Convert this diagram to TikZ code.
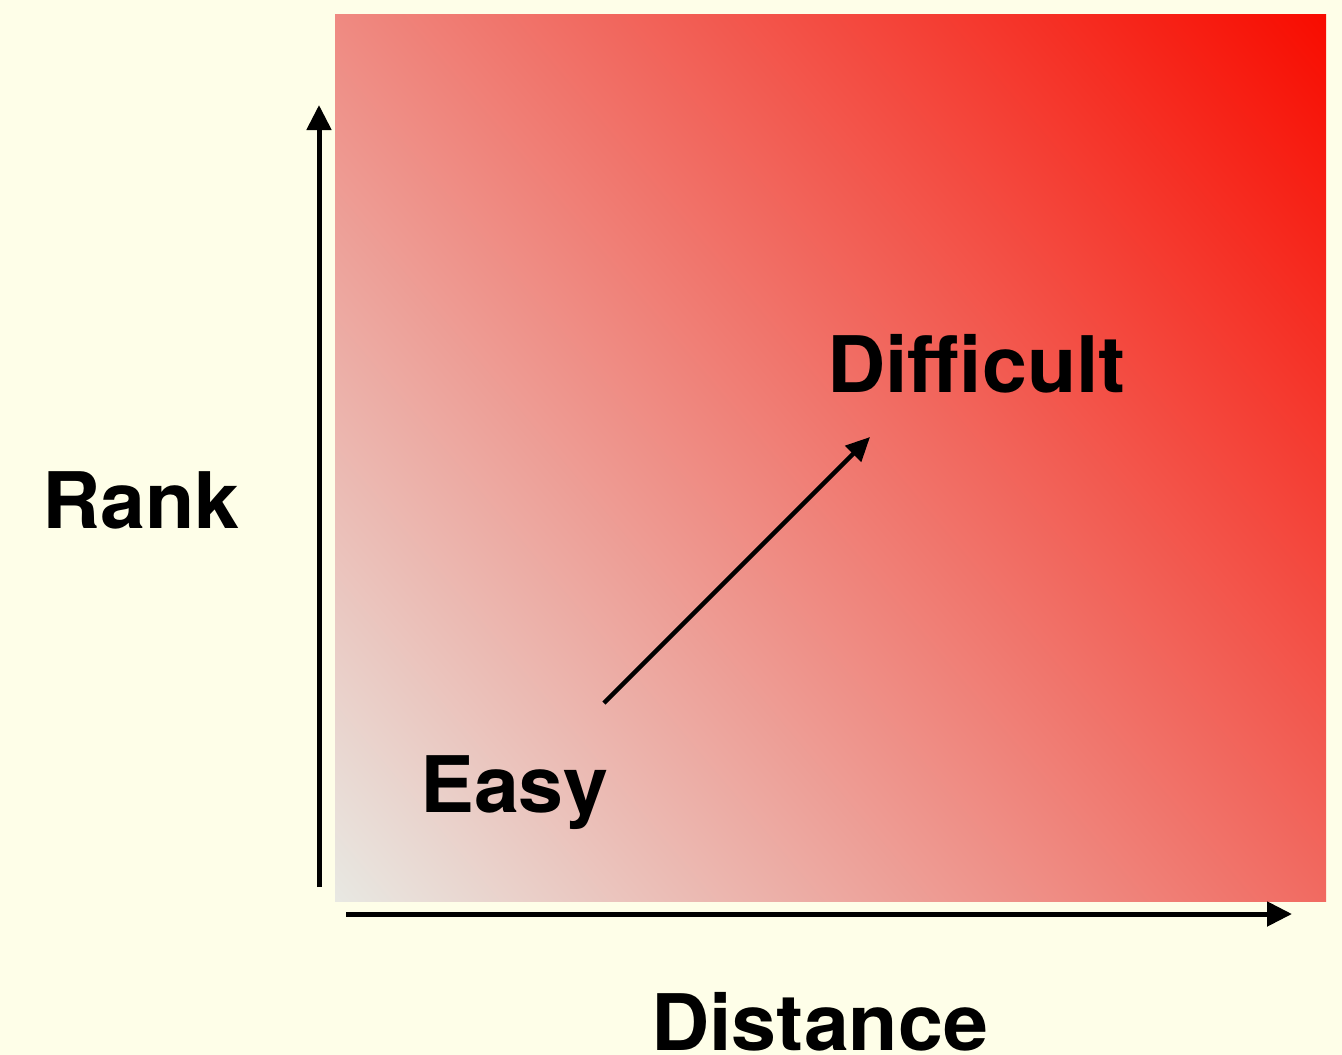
\documentclass[tikz,border=0pt]{standalone}
\usepackage{fontspec}
\setmainfont{TeX Gyre Heros}[FakeStretch=1.035]
\usetikzlibrary{arrows.meta}
\definecolor{bgcream}{HTML}{FEFEE8}
\definecolor{cgray}{HTML}{E8E8E2}
\definecolor{cred}{HTML}{F80C00}
\pgfdeclarehorizontalshading{diagshade}{100bp}{color(0bp)=(cgray); color(14.8bp)=(cgray); color(85.2bp)=(cred); color(100bp)=(cred)}
\tikzset{
  lbl/.style={font=\fontsize{78}{80}\selectfont\bfseries, inner sep=0pt, anchor=base west, text=black},
  axisarrow/.style={line width=5pt, -{Triangle[length=25pt,width=24pt]}},
  diagarrow/.style={line width=4.5pt, -{Triangle[length=24pt,width=22pt]}}
}
\begin{document}
\begin{tikzpicture}[x=1pt,y=-1pt]
\fill[bgcream] (0,0) rectangle (1342,1055);
\useasboundingbox (0,0) rectangle (1342,1055);
\shade[shading=diagshade, shading angle=40] (335,14) rectangle (1326,901);
\node[lbl] (rank) at (42,528) {Rank};
\node[lbl] (easy) at (420,812) {Easy};
\node[lbl] (difficult) at (827,392) {Difficult};
\node[lbl] (distance) at (651,1050) {Distance};
\coordinate (vstart) at (319,887);
\coordinate (vend) at (319,105);
\coordinate (hstart) at (346,914);
\coordinate (hend) at (1292,914);
\coordinate (dstart) at (604,703);
\coordinate (dend) at (870,437);
\draw[axisarrow] (vstart) -- (vend);
\draw[axisarrow] (hstart) -- (hend);
\draw[diagarrow] (dstart) -- (dend);
\end{tikzpicture}
\end{document}
